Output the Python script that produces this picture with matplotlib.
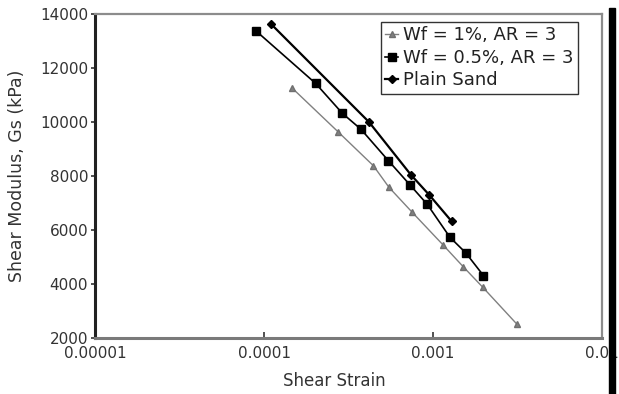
import matplotlib
matplotlib.use("Agg")
import matplotlib.pyplot as plt
from matplotlib.patches import Rectangle
from matplotlib.ticker import FixedLocator, FixedFormatter, NullLocator

# the scan uses a wide Arial-like face, DejaVu Sans matches its widths better
plt.rcParams['font.family'] = ['DejaVu Sans']

# --- data ---
strain_wf1 = [0.000146, 0.000274, 0.000444, 0.000549, 0.000755, 0.00115, 0.00151, 0.00197, 0.00313]
gs_wf1 = [11270, 9640, 8380, 7580, 6650, 5440, 4640, 3880, 2520]

strain_wf05 = [0.0000898, 0.000202, 0.000291, 0.000375, 0.000544, 0.000731, 0.000925, 0.00126, 0.00156, 0.00199]
gs_wf05 = [13370, 11430, 10320, 9730, 8570, 7670, 6950, 5730, 5160, 4310]

strain_sand = [0.000110, 0.000418, 0.000741, 0.00095, 0.00129]
gs_sand = [13630, 10000, 8040, 7300, 6320]

labels = ["Wf = 1%, AR = 3", "Wf = 0.5%, AR = 3", "Plain Sand"]

x_ticks = [0.00001, 0.0001, 0.001, 0.01]
x_ticklabels = ["0.00001", "0.0001", "0.001", "0.01"]
y_ticks = [2000, 4000, 6000, 8000, 10000, 12000, 14000]

fig = plt.figure(figsize=(6.19, 3.94), dpi=100)
ax = fig.add_axes([0.1535, 0.1421, 0.8190, 0.8224])

ax.plot(strain_wf1, gs_wf1, color='#808080', lw=1.0, marker='^', ms=5,
        mec='#707070', mfc='#808080', label=labels[0])
ax.plot(strain_wf05, gs_wf05, color='black', lw=1.2, marker='s', ms=6,
        label=labels[1])
ax.plot(strain_sand, gs_sand, color='black', lw=1.6, marker='D', ms=4.5,
        label=labels[2])

ax.set_xscale('log')
ax.set_xlim(0.00001, 0.01)
ax.set_ylim(2000, 14000)
ax.xaxis.set_major_locator(FixedLocator(x_ticks))
ax.xaxis.set_major_formatter(FixedFormatter(x_ticklabels))
ax.xaxis.set_minor_locator(NullLocator())
ax.set_yticks(y_ticks)
ax.set_yticklabels([str(v) for v in y_ticks])

ax.tick_params(axis='x', direction='in', length=4, width=1.2, labelsize=11,
               pad=6, colors='#333333', labelcolor='#333333')
ax.tick_params(axis='y', direction='out', length=3, width=1.2, labelsize=11,
               pad=2, colors='#333333', labelcolor='#333333')

ax.spines['left'].set_color('#222222')
ax.spines['left'].set_linewidth(2.2)
ax.spines['bottom'].set_color('#7a7a7a')
ax.spines['bottom'].set_linewidth(2.2)
ax.spines['top'].set_color('#8c8c8c')
ax.spines['top'].set_linewidth(1.6)
ax.spines['right'].set_color('#8c8c8c')
ax.spines['right'].set_linewidth(1.6)

ax.set_xlabel("Shear Strain", fontsize=12, color='#333333')
ax.xaxis.set_label_coords(0.473, -0.105)
ax.set_ylabel("Shear Modulus, Gs (kPa)", fontsize=12.5, color='#333333')
ax.yaxis.set_label_coords(-0.137, 0.5)

leg = ax.legend(loc='upper right', bbox_to_anchor=(0.9535, 0.9755), fontsize=13,
                frameon=True, fancybox=False, edgecolor='black', handlelength=0.7,
                handletextpad=0.3, borderpad=0.25, labelspacing=0.25, borderaxespad=0)
leg.get_frame().set_linewidth(1.0)
for t in leg.get_texts():
    t.set_color('#222222')

# thick black bar at the right edge of the scanned figure
fig.patches.append(Rectangle((609 / 619, 0), 6 / 619, 1 - 8 / 394,
                             transform=fig.transFigure, color='black', zorder=10))

fig.savefig("out.png", dpi=100)
